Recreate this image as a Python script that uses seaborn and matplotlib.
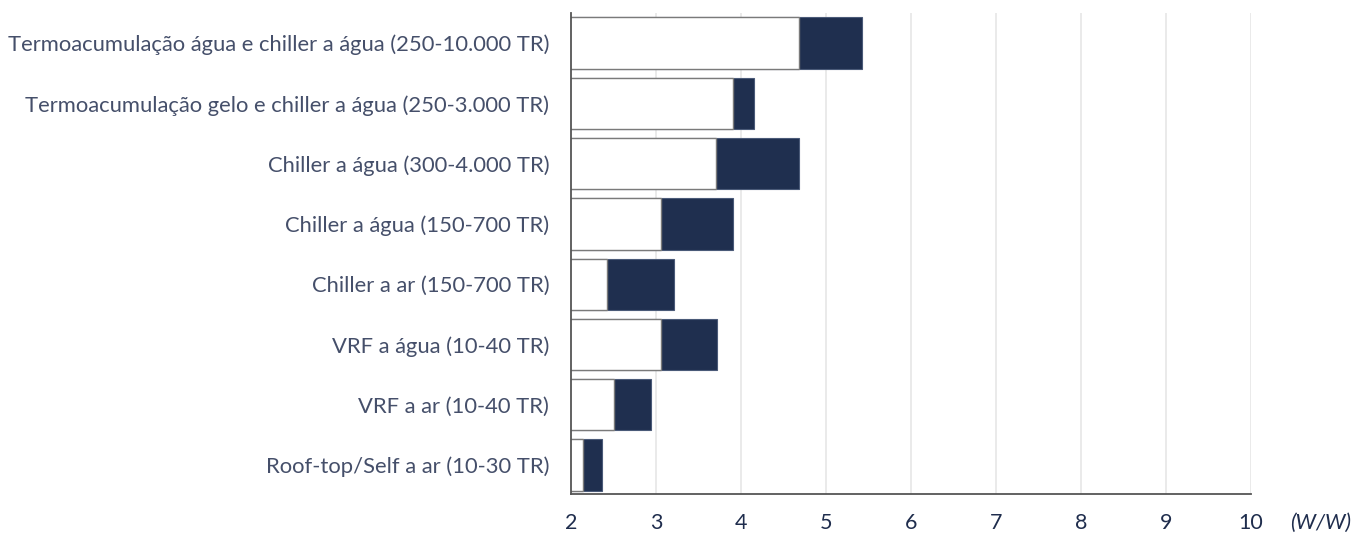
import matplotlib
matplotlib.use("Agg")
import matplotlib.pyplot as plt
import seaborn as sns
import pandas as pd

categories = [
    "Termoacumulação água e chiller a água (250-10.000 TR)",
    "Termoacumulação gelo e chiller a água (250-3.000 TR)",
    "Chiller a água (300-4.000 TR)",
    "Chiller a água (150-700 TR)",
    "Chiller a ar (150-700 TR)",
    "VRF a água (10-40 TR)",
    "VRF a ar (10-40 TR)",
    "Roof-top/Self a ar (10-30 TR)",
]
low_values = [4.68, 3.9, 3.7, 3.05, 2.42, 3.05, 2.5, 2.14]
high_values = [5.42, 4.15, 4.68, 3.9, 3.21, 3.71, 2.94, 2.36]
x_ticks = [2, 3, 4, 5, 6, 7, 8, 9, 10]
unit_label = "(W/W)"

sns.set_theme(style="white")
plt.rcParams["font.family"] = ["Lato", "DejaVu Sans"]

df = pd.DataFrame({"cat": categories, "low": low_values, "high": high_values})

fig = plt.figure(figsize=(13.52, 5.34), dpi=100)
ax = fig.add_axes([0.4227, 0.0749, 0.5026, 0.9008])

for x in x_ticks[1:]:
    ax.axvline(x, color="#e6e6e6", lw=1.2, zorder=0)

navy = "#1f2f4f"
sns.barplot(data=df, y="cat", x="high", orient="h", color=navy, saturation=1,
            width=0.85, edgecolor="#4a5a78", linewidth=0.8, ax=ax, zorder=2)
sns.barplot(data=df, y="cat", x="low", orient="h", color="white", saturation=1,
            width=0.85, edgecolor="#7a7a7a", linewidth=1.0, ax=ax, zorder=3)

ax.set_xlim(2, 10)
ax.set_ylim(7.48, -0.5)
ax.set_xticks(x_ticks)
ax.set_xticklabels([str(t) for t in x_ticks], fontsize=15.5, color="#1f2d4d")
ax.set_yticklabels(categories, fontsize=15.8, color="#454f6a")
ax.tick_params(axis="y", length=0, pad=16)
ax.tick_params(axis="x", length=0, pad=14)
ax.set_xlabel("")
ax.set_ylabel("")

for s in ["top", "right"]:
    ax.spines[s].set_visible(False)
for s in ["left", "bottom"]:
    ax.spines[s].set_visible(True)
    ax.spines[s].set_color("#555555")
    ax.spines[s].set_linewidth(1.3)
    ax.spines[s].set_zorder(5)

fig.text(1290 / 1352, 1 - 523 / 534, unit_label, fontsize=15.5, style="italic",
         color="#1f2d4d", ha="left", va="center")

fig.savefig("out.png", dpi=100, facecolor="white")
